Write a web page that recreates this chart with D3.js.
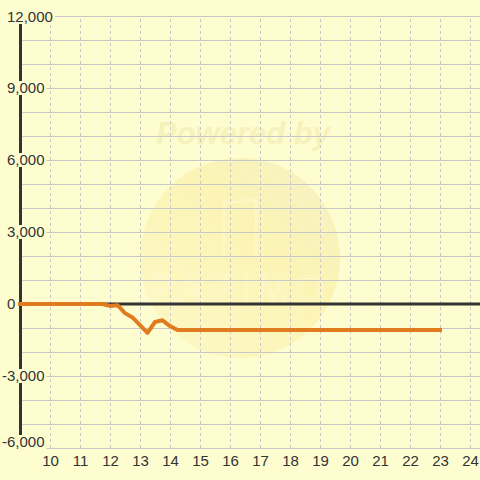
<!DOCTYPE html>
<html>
<head>
<meta charset="utf-8">
<script src="https://cdn.jsdelivr.net/npm/d3@7"></script>
<style>
  html, body { margin: 0; padding: 0; background: #fdfdd0; }
  svg { display: block; font-family: "Liberation Sans", Arial, sans-serif; }
</style>
</head>
<body>
<svg id="chart" width="480" height="480"></svg>
<script>
// hours of the day and the running value at each of them
const hours = [9, 11.75, 12, 12.25, 12.5, 12.75, 13, 13.25, 13.5, 13.75, 14, 14.25, 23];
const values = [0, 0, -80, -50, -380, -560, -880, -1200, -750, -680, -920, -1080, -1080];

const hourTicks = [10, 11, 12, 13, 14, 15, 16, 17, 18, 19, 20, 21, 22, 23, 24];
const valueTicks = [12000, 9000, 6000, 3000, 0, -3000, -6000];

const width = 480;
const height = 480;
const margin = {top: 16, right: 0, bottom: 32, left: 20};
const bg = '#fdfdd0';
const lineColor = '#e07b1f';
const fontSize = 15;

const svg = d3.select('#chart');

const x = d3.scaleLinear()
  .domain([9, 24 + 1 / 3])
  .range([margin.left, width - margin.right]);

const y = d3.scaleLinear()
  .domain([-6000, 12000])
  .range([height - margin.bottom, margin.top]);

svg.append('rect').attr('width', width).attr('height', height).attr('fill', bg);

// faint watermark behind the plot
const defs = svg.append('defs');
const grad = defs.append('linearGradient').attr('id', 'wm')
  .attr('x1', '0%').attr('y1', '100%').attr('x2', '100%').attr('y2', '0%');
grad.append('stop').attr('offset', '0%').attr('stop-color', '#fdf8c4');
grad.append('stop').attr('offset', '60%').attr('stop-color', '#fcf2ae');
grad.append('stop').attr('offset', '100%').attr('stop-color', '#f2edc2');

const wm = svg.append('g');
wm.append('circle').attr('cx', 240).attr('cy', 258).attr('r', 100)
  .attr('fill', 'url(#wm)').attr('opacity', 0.8);
wm.append('text')
  .attr('x', 243).attr('y', 144)
  .attr('text-anchor', 'middle')
  .attr('font-size', 31).attr('font-weight', 'bold').attr('font-style', 'italic')
  .attr('fill', '#f7f1bc')
  .text('Powered by');
wm.append('path')
  .attr('d', 'M224,255 V202 H243 V200 H256 V255')
  .attr('fill', 'none').attr('stroke', '#fffbe0').attr('stroke-width', 1.5).attr('opacity', 0.6);
wm.append('text')
  .attr('x', 240).attr('y', 302)
  .attr('text-anchor', 'middle')
  .attr('font-size', 38).attr('letter-spacing', 6)
  .attr('fill', 'none').attr('stroke', '#fffbe0').attr('stroke-width', 1).attr('opacity', 0.6)
  .text('PAPIMO');

// horizontal grid every 1000
svg.append('g')
  .attr('transform', `translate(${margin.left},0)`)
  .call(d3.axisLeft(y).tickValues(d3.range(-6000, 12001, 1000))
    .tickSize(-(width - margin.left - margin.right)).tickFormat(''))
  .call(g => g.select('.domain').remove())
  .call(g => g.selectAll('.tick line').attr('stroke', '#c8c8c8'));

// vertical dashed grid per hour
svg.append('g')
  .attr('transform', `translate(0,${height - margin.bottom})`)
  .call(d3.axisBottom(x).tickValues(hourTicks)
    .tickSize(-(height - margin.bottom - margin.top)).tickFormat(''))
  .call(g => g.select('.domain').remove())
  .call(g => g.selectAll('.tick line').attr('stroke', '#c8c8c8').attr('stroke-dasharray', '3,3'));

// x labels
svg.append('g')
  .attr('transform', `translate(0,${height - margin.bottom})`)
  .call(d3.axisBottom(x).tickValues(hourTicks).tickSize(0).tickPadding(7))
  .call(g => g.select('.domain').remove())
  .call(g => g.selectAll('.tick text').attr('font-size', fontSize).attr('fill', '#333')
    .attr('font-family', '"Liberation Sans", Arial, sans-serif'));

// zero line
svg.append('line')
  .attr('x1', margin.left).attr('x2', width)
  .attr('y1', y(0)).attr('y2', y(0))
  .attr('stroke', '#333').attr('stroke-width', 3);

// y axis bar
svg.append('line')
  .attr('x1', margin.left + 0.5).attr('x2', margin.left + 0.5)
  .attr('y1', margin.top).attr('y2', height - margin.bottom)
  .attr('stroke', '#333').attr('stroke-width', 3);

// y labels, boxed in the background colour so they cut the axis bar
const fmt = d3.format(',');
const yl = svg.append('g').selectAll('g').data(valueTicks).join('g')
  .attr('transform', d => `translate(${d < 0 ? 2 : 7},${Math.max(17, Math.min(442, y(d)))})`);
yl.append('rect')
  .attr('x', -2).attr('y', -7).attr('height', 14)
  .attr('fill', bg);
yl.append('text')
  .attr('dy', '0.35em')
  .attr('font-size', fontSize).attr('fill', '#333')
  .text(d => fmt(d).replace('−', '-'));
yl.each(function() {
  const g = d3.select(this);
  const w = g.select('text').node().getComputedTextLength();
  g.select('rect').attr('width', w + 4);
});

// the series
const line = d3.line()
  .x((d, i) => x(hours[i]))
  .y(d => y(d));

svg.append('path')
  .datum(values)
  .attr('d', line)
  .attr('fill', 'none')
  .attr('stroke', lineColor)
  .attr('stroke-width', 4)
  .attr('stroke-linejoin', 'round')
  .attr('stroke-linecap', 'square');
</script>
</body>
</html>
